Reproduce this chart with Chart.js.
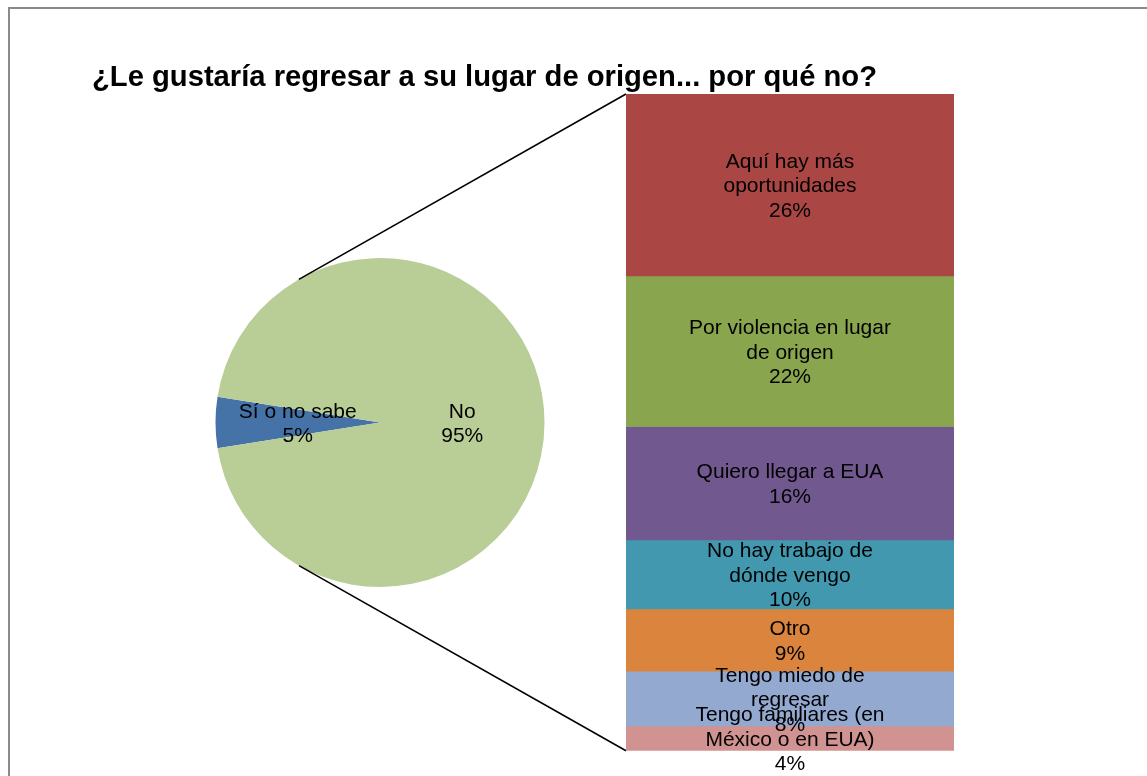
<!DOCTYPE html>
<html>
<head>
<meta charset="utf-8">
<script src="https://cdn.jsdelivr.net/npm/chart.js@4"></script>
<style>
  html, body { margin: 0; padding: 0; background: #ffffff; }
  #wrap { position: relative; width: 1147px; height: 776px; overflow: hidden; background: #ffffff; }
  #frame { position: absolute; left: 8px; top: 7px; width: 1200px; height: 900px;
           border-top: 2px solid #8a8a8a; border-left: 2px solid #8a8a8a; box-sizing: border-box; }
  #title { position: absolute; left: 92px; top: 62px; white-space: nowrap;
           font-family: "Liberation Sans", Arial, sans-serif; font-weight: bold;
           font-size: 29.2px; line-height: 29px; color: #000; }
  canvas { position: absolute; left: 0; top: 0; }
  #barCanvas { pointer-events: none; }
</style>
</head>
<body>
<div id="wrap">
  <div id="frame"></div>
  <canvas id="pieCanvas" width="1147" height="776"></canvas>
  <canvas id="barCanvas" width="1147" height="776"></canvas>
  <div id="title"></div>
</div>
<script>
// ---------- DATA ----------
const chartTitle = '¿Le gustaría regresar a su lugar de origen... por qué no?';

const pieCategories = ['Sí o no sabe', 'No'];
const pieValues = [5, 95];

const barCategories = [
  'Aquí hay más oportunidades',
  'Por violencia en lugar de origen',
  'Quiero llegar a EUA',
  'No hay trabajo de dónde vengo',
  'Otro',
  'Tengo miedo de regresar',
  'Tengo familiares (en México o en EUA)'
];
const barValues = [26.3, 21.8, 16.4, 10.0, 9.0, 7.9, 3.6];
const barLabelLines = [
  ['Aquí hay más', 'oportunidades'],
  ['Por violencia en lugar', 'de origen'],
  ['Quiero llegar a EUA'],
  ['No hay trabajo de', 'dónde vengo'],
  ['Otro'],
  ['Tengo miedo de', 'regresar'],
  ['Tengo familiares (en', 'México o en EUA)']
];

// ---------- STYLE ----------
const pieColors = ['#4572A7', '#B9CD96'];
const barColors = ['#AA4643', '#89A54E', '#71588F', '#4198AF', '#DB843D', '#93A9CF', '#D19392'];
const FONT = '"Liberation Sans", Arial, sans-serif';
const LABEL_FONT = '21px ' + FONT;
const LINE_H = 24.5;
const BASE_OFF = 7.5;

document.getElementById('title').textContent = chartTitle;

function drawLines(ctx, lines, cx, cy) {
  const n = lines.length;
  lines.forEach((t, i) => {
    const y = cy + (i - (n - 1) / 2) * LINE_H + BASE_OFF;
    ctx.fillText(t, cx, y);
  });
}

const pieTotal = pieValues.reduce((a, b) => a + b, 0);
const barTotal = barValues.reduce((a, b) => a + b, 0);

const pieLabelPlugin = {
  id: 'pieLabels',
  afterDatasetsDraw(chart) {
    const ctx = chart.ctx;
    const meta = chart.getDatasetMeta(0);
    ctx.save();
    ctx.font = LABEL_FONT;
    ctx.fillStyle = '#000';
    ctx.textAlign = 'center';
    ctx.textBaseline = 'alphabetic';
    meta.data.forEach((el, i) => {
      const mid = (el.startAngle + el.endAngle) / 2;
      const r = el.outerRadius / 2;
      const x = el.x + Math.cos(mid) * r;
      const y = el.y + Math.sin(mid) * r;
      const pct = Math.round(pieValues[i] / pieTotal * 100) + '%';
      drawLines(ctx, [pieCategories[i], pct], x, y);
    });
    ctx.restore();
  }
};

const pieChart = new Chart(document.getElementById('pieCanvas'), {
  type: 'pie',
  data: {
    labels: pieCategories,
    datasets: [{ data: pieValues, backgroundColor: pieColors, borderWidth: 0 }]
  },
  options: {
    responsive: false,
    animation: false,
    rotation: 261,
    layout: { padding: { left: 215.5, right: 602.5, top: 258, bottom: 189 } },
    plugins: { legend: { display: false }, tooltip: { enabled: false }, title: { display: false } }
  },
  plugins: [pieLabelPlugin]
});

const connectorPlugin = {
  id: 'connectors',
  beforeDatasetsDraw(chart) {
    const arc = pieChart.getDatasetMeta(0).data[0];
    if (!arc) return;
    const cx = arc.x, cy = arc.y, r = arc.outerRadius;
    const first = chart.getDatasetMeta(0).data[0];
    const last = chart.getDatasetMeta(barValues.length - 1).data[0];
    const left = first.x - first.width / 2;
    const topY = Math.min(first.y, first.base);
    const botY = Math.max(last.y, last.base);
    function tangent(px, py, sign) {
      const dx = px - cx, dy = py - cy;
      const d = Math.sqrt(dx * dx + dy * dy);
      const phi = Math.atan2(dy, dx);
      const a = Math.acos(r / d);
      const ang = phi + sign * a;
      return [cx + Math.cos(ang) * r, cy + Math.sin(ang) * r];
    }
    const t1 = tangent(left, topY, -1);
    const t2 = tangent(left, botY, 1);
    const ctx = chart.ctx;
    ctx.save();
    ctx.strokeStyle = '#000';
    ctx.lineWidth = 1.6;
    ctx.beginPath();
    ctx.moveTo(t1[0], t1[1]); ctx.lineTo(left, topY);
    ctx.moveTo(t2[0], t2[1]); ctx.lineTo(left, botY);
    ctx.stroke();
    ctx.restore();
  }
};

const barLabelPlugin = {
  id: 'barLabels',
  afterDatasetsDraw(chart) {
    const ctx = chart.ctx;
    ctx.save();
    ctx.font = LABEL_FONT;
    ctx.fillStyle = '#000';
    ctx.textAlign = 'center';
    ctx.textBaseline = 'alphabetic';
    barValues.forEach((v, i) => {
      const el = chart.getDatasetMeta(i).data[0];
      const cy = (el.y + el.base) / 2;
      const lines = barLabelLines[i].concat([Math.round(v) + '%']);
      drawLines(ctx, lines, el.x, cy);
    });
    ctx.restore();
  }
};

const barChart = new Chart(document.getElementById('barCanvas'), {
  type: 'bar',
  data: {
    labels: ['No'],
    datasets: barValues.map((v, i) => ({
      label: barCategories[i],
      data: [v],
      backgroundColor: barColors[i],
      borderWidth: 0,
      barPercentage: 1,
      categoryPercentage: 1
    }))
  },
  options: {
    responsive: false,
    animation: false,
    layout: { padding: { left: 626, right: 193, top: 94, bottom: 25.3 } },
    scales: {
      x: { stacked: true, display: false },
      y: { stacked: true, display: false, reverse: true, min: 0, max: barTotal }
    },
    plugins: { legend: { display: false }, tooltip: { enabled: false }, title: { display: false } }
  },
  plugins: [connectorPlugin, barLabelPlugin]
});
</script>
</body>
</html>
